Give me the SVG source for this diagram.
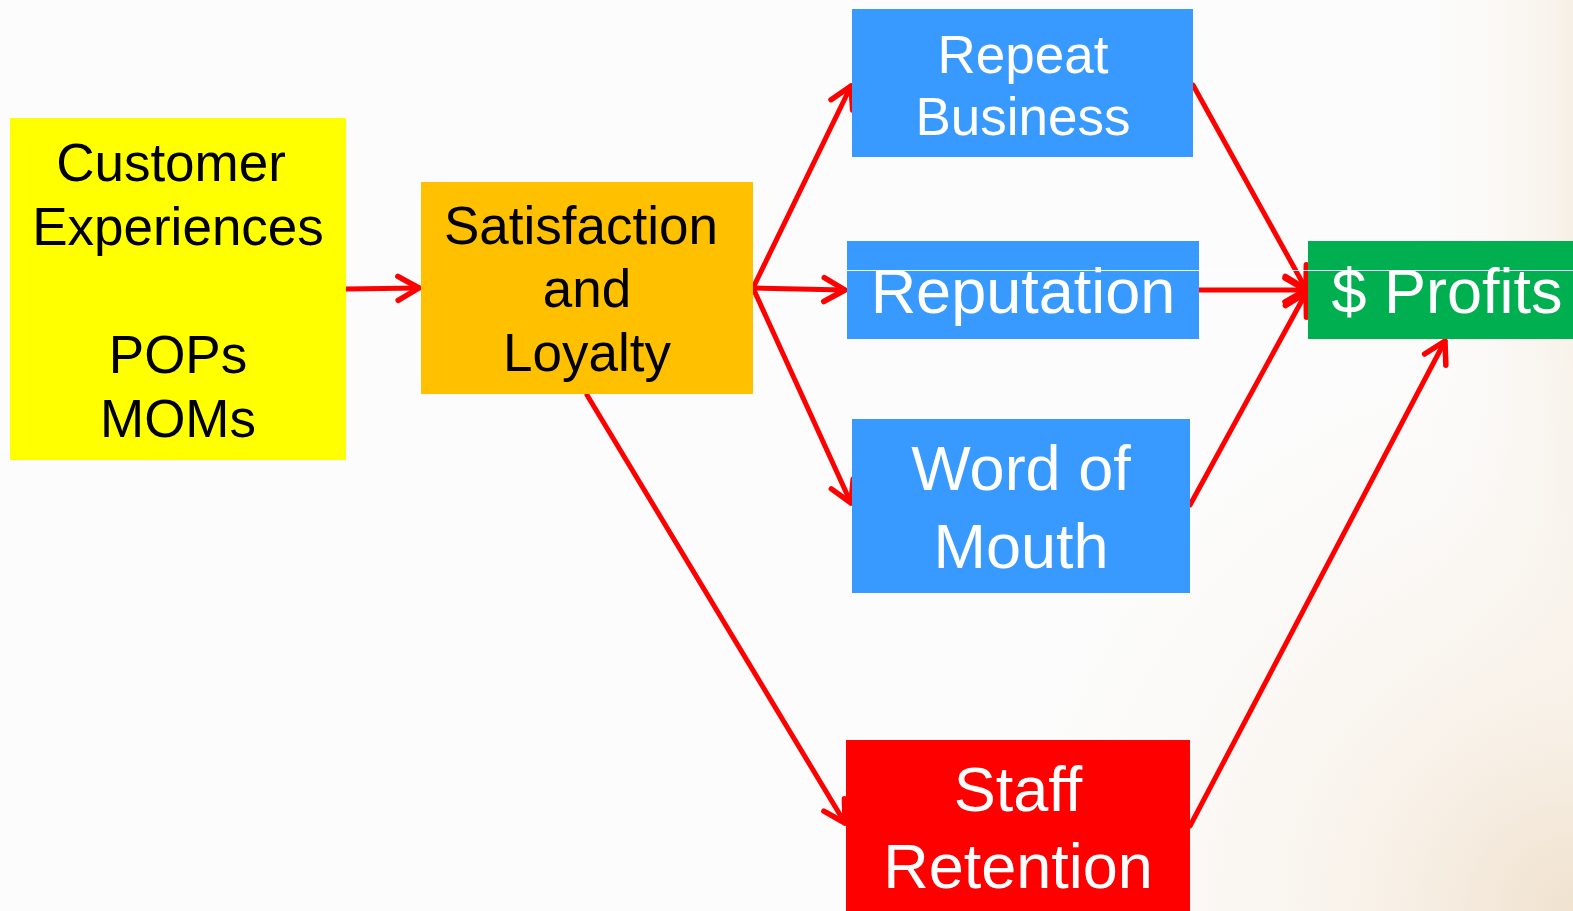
<svg xmlns="http://www.w3.org/2000/svg" width="1573" height="911" viewBox="0 0 1573 911">
<style>
  .lbl { font-family: "Liberation Sans", Arial, sans-serif; text-anchor: middle; }
  .dark { fill: #000000; font-size: 53px; }
  .light { fill: #ffffff; }
  .conn { stroke: #ff0000; stroke-width: 5; fill: none; stroke-linecap: round; marker-end: url(#arr); }
</style>
<defs>
  <marker id="arr" markerUnits="userSpaceOnUse" markerWidth="40" markerHeight="40" refX="0" refY="0" viewBox="-25 -20 30 40" orient="auto" overflow="visible">
    <path d="M -21,-12 L 0,0 L -21,12" fill="none" stroke="#ff0000" stroke-width="5.5" stroke-linecap="round" stroke-linejoin="round"/>
  </marker>
  <radialGradient id="bg" cx="1573" cy="911" r="650" gradientUnits="userSpaceOnUse">
    <stop offset="0" stop-color="#f0e2cf"/>
    <stop offset="0.3" stop-color="#f8f1e8"/>
    <stop offset="1" stop-color="#fcfcfc" stop-opacity="0"/>
  </radialGradient>
  <linearGradient id="bg2" x1="1400" y1="0" x2="1573" y2="0" gradientUnits="userSpaceOnUse">
    <stop offset="0" stop-color="#fcfcfc" stop-opacity="0"/>
    <stop offset="1" stop-color="#f7f0e6"/>
  </linearGradient>
</defs>
<rect x="0" y="0" width="1573" height="911" fill="#fcfcfc"/>
<rect x="0" y="0" width="1573" height="911" fill="url(#bg2)"/>
<rect x="0" y="0" width="1573" height="911" fill="url(#bg)"/>

<g id="connectors">
  <line class="conn" x1="346" y1="289" x2="419" y2="288"/>
  <line class="conn" x1="753" y1="288" x2="851" y2="86"/>
  <line class="conn" x1="753" y1="288" x2="845" y2="290"/>
  <line class="conn" x1="753" y1="288" x2="851" y2="503"/>
  <line class="conn" x1="587" y1="395" x2="845" y2="823"/>
  <line class="conn" x1="1193" y1="85" x2="1306" y2="289"/>
  <line class="conn" x1="1199" y1="290" x2="1306" y2="290"/>
  <line class="conn" x1="1190" y1="505" x2="1306" y2="293"/>
  <line class="conn" x1="1190" y1="826" x2="1445" y2="341"/>
</g>

<g id="customer-experiences">
  <rect x="10" y="118" width="336" height="342" fill="#ffff00"/>
  <text class="lbl dark" x="171" y="181">Customer</text>
  <text class="lbl dark" x="178" y="245">Experiences</text>
  <text class="lbl dark" x="178" y="373">POPs</text>
  <text class="lbl dark" x="178" y="437">MOMs</text>
</g>

<g id="satisfaction-loyalty">
  <rect x="421" y="182" width="332" height="212" fill="#ffc000"/>
  <text class="lbl dark" x="581" y="244">Satisfaction</text>
  <text class="lbl dark" x="587" y="307">and</text>
  <text class="lbl dark" x="587" y="371">Loyalty</text>
</g>

<g id="repeat-business">
  <rect x="852" y="9" width="341" height="148" fill="#3899fe"/>
  <text class="lbl light" x="1023" y="73" font-size="53">Repeat</text>
  <text class="lbl light" x="1023" y="135" font-size="53">Business</text>
</g>

<g id="reputation">
  <rect x="847" y="241" width="352" height="98" fill="#3899fe"/>
  <text class="lbl light" x="1023" y="313" font-size="63">Reputation</text>
</g>

<g id="word-of-mouth">
  <rect x="852" y="419" width="338" height="174" fill="#3899fe"/>
  <text class="lbl light" x="1021" y="490" font-size="63">Word of</text>
  <text class="lbl light" x="1021" y="568" font-size="63">Mouth</text>
</g>

<g id="staff-retention">
  <rect x="846" y="740" width="344" height="171" fill="#ff0000"/>
  <text class="lbl light" x="1018" y="811" font-size="63">Staff</text>
  <text class="lbl light" x="1018" y="888" font-size="63">Retention</text>
</g>

<g id="profits">
  <rect x="1308" y="241" width="265" height="98" fill="#00b050"/>
  <text class="lbl light" x="1447" y="313" font-size="63">$ Profits</text>
</g>

<line x1="847" y1="270.5" x2="1573" y2="270.5" stroke="#ffffff" stroke-width="1" opacity="0.9"/>
</svg>
